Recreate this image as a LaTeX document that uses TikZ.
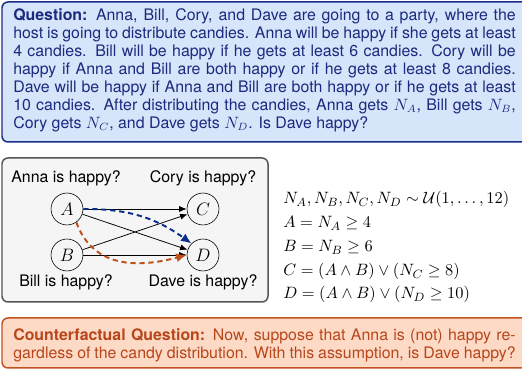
\documentclass[tikz,border=0pt]{standalone}
\usepackage[no-math]{fontspec}
\setmainfont{TeX Gyre Heros}
\usetikzlibrary{arrows.meta}
\definecolor{qtext}{HTML}{1B2A7E}
\definecolor{qfill}{HTML}{D6E5F9}
\definecolor{qborder}{HTML}{1A2C8A}
\definecolor{cftext}{HTML}{B8461B}
\definecolor{cffill}{HTML}{FDDAC5}
\definecolor{cfborder}{HTML}{C4521E}
\definecolor{gfill}{HTML}{F5F5F5}
\definecolor{gborder}{HTML}{555555}
\definecolor{arrblue}{HTML}{0B2D8C}
\definecolor{arrorange}{HTML}{C0501A}
\begin{document}
\begin{tikzpicture}[x=0.6667pt,y=0.6667pt,
  boxframe/.style={line width=1pt, rounded corners=4pt},
  para/.style={anchor=north west, inner sep=0pt, text width=335pt, align=justify, font=\fontsize{10.6}{12}\selectfont},
  var/.style={circle, draw, minimum size=21.3pt, inner sep=0pt, font=\fontsize{11.5}{13}\selectfont},
  lbl/.style={anchor=base, font=\fontsize{10.6}{12}\selectfont},
  eq/.style={anchor=base west, inner sep=0pt, font=\fontsize{11.2}{13}\selectfont},
  edge/.style={-{Latex[length=5pt,width=4pt]}, line width=0.5pt},
  cfedge/.style={-{Latex[length=7pt,width=6pt]}, line width=1.3pt, dash pattern=on 3.5pt off 2.5pt}
]
\useasboundingbox (0,0) rectangle (522,369);
% question box
\draw[boxframe, draw=qborder, fill=qfill] (2,227) rectangle (530,367);
\node[para, text=qtext] (q) at (13,361) {\textbf{Question:} Anna, Bill, Cory, and Dave are going to a party, where the\linebreak
host is going to distribute candies. Anna will be happy if she gets at least\linebreak
4 candies. Bill will be happy if he gets at least 6 candies. Cory will be\linebreak
happy if Anna and Bill are both happy or if he gets at least 8 candies.\linebreak
Dave will be happy if Anna and Bill are both happy or if he gets at least\linebreak
10 candies. After distributing the candies, Anna gets $N_A$, Bill gets $N_B$,\linebreak
Cory gets $N_C$, and Dave gets $N_D$. Is Dave happy?};
% graph box
\draw[boxframe, draw=gborder, fill=gfill] (2,67) rectangle (268,211);
\node[lbl] (la) at (66,186) {Anna is happy?};
\node[lbl] (lc) at (203,186) {Cory is happy?};
\node[lbl] (lb) at (66,82) {Bill is happy?};
\node[lbl] (ld) at (203,82) {Dave is happy?};
\node[var] (A) at (67,160) {$A$};
\node[var] (B) at (67,114) {$B$};
\node[var] (C) at (203,160) {$C$};
\node[var] (D) at (203,114) {$D$};
\draw[edge] (A) -- (C);
\draw[edge] (A) -- (D);
\draw[edge] (B) -- (C);
\draw[edge] (B) -- (D);
\draw[cfedge, arrblue] (A.east) to[bend left=18] (D.north west);
\draw[cfedge, arrorange] (A.-55) to[out=-70, in=195, looseness=1.1] (D.west);
% equations
\node[eq] (e1) at (283,165) {$N_A, N_B, N_C, N_D \sim \mathcal{U}(1, \ldots, 12)$};
\node[eq] (e2) at (283,141) {$A = N_A \geq 4$};
\node[eq] (e3) at (283,117) {$B = N_B \geq 6$};
\node[eq] (e4) at (283,93) {$C = (A \wedge B) \vee (N_C \geq 8)$};
\node[eq] (e5) at (283,70) {$D = (A \wedge B) \vee (N_D \geq 10)$};
% counterfactual box
\draw[boxframe, draw=cfborder, fill=cffill] (2,1) rectangle (530,51);
\node[para, text=cftext] (cf) at (13,41) {\textbf{Counterfactual Question:} Now, suppose that Anna is (not) happy re-\linebreak
gardless of the candy distribution. With this assumption, is Dave happy?};
\end{tikzpicture}
\end{document}
